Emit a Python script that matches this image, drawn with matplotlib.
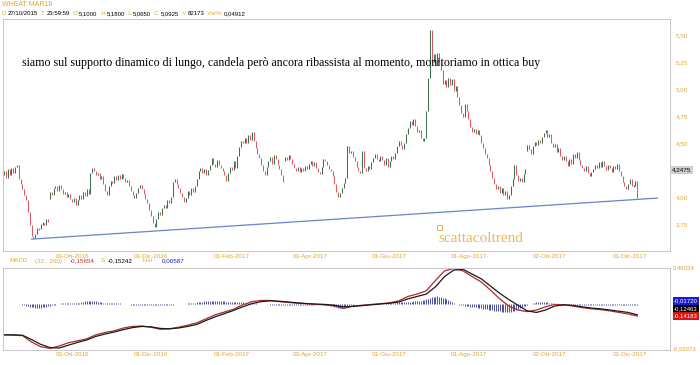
import matplotlib
matplotlib.use("Agg")
import matplotlib.pyplot as plt
import numpy as np
import pandas as pd
from matplotlib.patches import Rectangle

# ---------------- data ----------------
start_date = "2016-08-11"
first_open = 4.20
closes = [
    4.24, 4.18, 4.26, 4.20, 4.27, 4.22, 4.28, 4.30,
    4.17, 4.12, 4.07, 4.02, 3.97, 3.86, 3.74, 3.64, 3.62,
    3.66, 3.71, 3.70, 3.75, 3.76, 3.74, 3.80, 3.77,
    4.05, 4.02, 4.08,
    4.10, 4.06, 4.11, 4.07, 4.03, 4.05, 4.00, 4.03, 3.98, 3.95, 3.99, 3.93, 3.97, 4.02, 3.98, 4.05, 4.01, 4.07, 4.03, 4.22,
    4.27, 4.24, 4.20, 4.22, 4.17, 4.19, 4.12, 4.06, 4.02, 4.10, 4.15, 4.13, 4.19, 4.16, 4.20, 4.17, 4.21, 4.18, 4.14, 4.16,
    4.10, 4.06, 4.02, 3.99, 4.04, 4.08, 4.11, 4.07, 4.03, 3.98, 3.94,
    3.88, 3.82, 3.76, 3.72,
    3.80, 3.86, 3.83, 3.90, 3.93, 3.90, 3.97, 3.94,
    4.00, 4.14, 4.17, 4.12,
    4.08, 4.04, 4.00, 3.95,
    3.99, 4.06, 4.02, 4.08, 4.05, 4.10,
    4.17, 4.24, 4.27, 4.22, 4.26, 4.20, 4.25, 4.30,
    4.36, 4.31, 4.28, 4.34, 4.30, 4.27, 4.24, 4.20, 4.15,
    4.22, 4.28, 4.25, 4.33, 4.27, 4.38, 4.46, 4.52, 4.50,
    4.55, 4.50, 4.57, 4.53, 4.60,
    4.52, 4.45, 4.40, 4.36,
    4.30, 4.24, 4.20,
    4.28, 4.33, 4.37, 4.31, 4.39, 4.35,
    4.30, 4.26, 4.20, 4.14,
    4.37, 4.34, 4.39, 4.35, 4.31,
    4.27, 4.24, 4.28, 4.23,
    4.27, 4.24, 4.29, 4.26, 4.31, 4.33, 4.29, 4.32, 4.27, 4.23, 4.21, 4.28, 4.35, 4.33, 4.30, 4.26, 4.24,
    4.19, 4.12, 4.05, 4.00,
    4.04, 4.08, 4.13, 4.18,
    4.47,
    4.41, 4.43, 4.37, 4.33, 4.28, 4.24, 4.22, 4.43, 4.27,
    4.24, 4.29, 4.26, 4.32, 4.36, 4.40, 4.35, 4.33, 4.38, 4.34, 4.30, 4.36, 4.28, 4.33, 4.38, 4.35,
    4.41, 4.47, 4.52, 4.48, 4.44, 4.50, 4.58, 4.64, 4.70,
    4.67, 4.72,
    4.66, 4.60, 4.62, 4.55, 4.52, 4.55,
    4.80, 5.10, 5.55, 5.25,
    5.32, 5.22, 5.33, 5.25, 5.18, 5.05,
    5.08, 5.02, 5.10, 5.04, 5.09, 4.98, 5.03,
    4.93, 4.85, 4.78, 4.74,
    4.86, 4.80,
    4.72, 4.65, 4.60, 4.63, 4.58, 4.62, 4.57,
    4.50, 4.45, 4.40, 4.36, 4.30,
    4.24, 4.18, 4.12, 4.07, 4.10,
    4.04, 4.08, 4.02, 4.06, 3.98,
    4.02, 4.10, 4.17, 4.30,
    4.20, 4.15, 4.18, 4.14, 4.21, 4.26,
    4.48,
    4.44, 4.40, 4.47, 4.51, 4.48, 4.53, 4.50, 4.56, 4.59, 4.62,
    4.56, 4.58, 4.50, 4.46, 4.49, 4.42, 4.45, 4.38,
    4.34, 4.38, 4.33, 4.29, 4.35, 4.31, 4.40, 4.36, 4.42, 4.34, 4.30,
    4.27, 4.24, 4.29, 4.22, 4.19, 4.23,
    4.26, 4.30, 4.27, 4.32, 4.28, 4.33, 4.29, 4.25, 4.30, 4.27, 4.23, 4.29, 4.26, 4.31, 4.24,
    4.19, 4.14, 4.10, 4.07, 4.12,
    4.17, 4.10, 4.10, 4.15,
    3.99,
]
gap_opens = {25: 3.98, 153: 4.33, 285: 4.43}

trend_idx = [15, 356]
trend_price = [3.61, 3.99]

macd_step = 5
macd_line = [
    -0.38, -0.385, -0.39, -0.47, -0.53, -0.55, -0.52, -0.48, -0.455, -0.43,
    -0.38, -0.35, -0.33, -0.295, -0.275, -0.27, -0.285, -0.31, -0.305, -0.285,
    -0.26, -0.23, -0.18, -0.13, -0.095, -0.06, -0.005, 0.035, 0.05, 0.05,
    0.035, 0.025, 0.015, 0.01, 0.0, -0.005, -0.02, -0.05, -0.02, -0.01,
    0.0, 0.01, 0.02, 0.045, 0.10, 0.13, 0.17, 0.30, 0.42, 0.45,
    0.42, 0.35, 0.28, 0.18, 0.07, -0.02, -0.07, -0.09, -0.07, -0.03,
    0.0, -0.005, -0.02, -0.04, -0.055, -0.065, -0.08, -0.10, -0.12, -0.145,
]
signal_line = [
    -0.38, -0.38, -0.385, -0.44, -0.50, -0.54, -0.545, -0.51, -0.475, -0.445,
    -0.40, -0.37, -0.345, -0.315, -0.29, -0.275, -0.28, -0.30, -0.305, -0.295,
    -0.275, -0.25, -0.20, -0.155, -0.115, -0.075, -0.03, 0.01, 0.035, 0.045,
    0.04, 0.03, 0.02, 0.01, 0.005, 0.0, -0.01, -0.03, -0.025, -0.015,
    -0.005, 0.005, 0.015, 0.03, 0.07, 0.10, 0.13, 0.22, 0.35, 0.43,
    0.44, 0.38, 0.32, 0.23, 0.14, 0.06, -0.01, -0.08, -0.10, -0.07,
    -0.02, -0.005, -0.012, -0.03, -0.045, -0.055, -0.07, -0.085, -0.10, -0.13,
]
hist = [
    0.004, 0.004, 0.003, 0.004, 0.003, 0.004, 0.003, 0.004, 0.003, 0.002,
    -0.004, -0.010, -0.016, -0.022, -0.028, -0.033, -0.037, -0.040, -0.042, -0.042,
    -0.041, -0.038, -0.034, -0.029, -0.023, -0.017, -0.011, -0.006, -0.002, 0.003,
    0.008, 0.012, 0.015, 0.017, 0.018, 0.019, 0.019, 0.018, 0.018, 0.019,
    0.021, 0.024, 0.028, 0.033, 0.038, 0.042, 0.045, 0.047, 0.047, 0.045,
    0.041, 0.036, 0.031, 0.026, 0.022, 0.019, 0.017, 0.016, 0.016, 0.017,
    0.017, 0.016, 0.015, 0.013, 0.011, 0.009, 0.006, 0.003, 0.001, -0.002,
    -0.004, -0.006, -0.008, -0.009, -0.010, -0.011, -0.012, -0.012, -0.013, -0.013,
    -0.013, -0.012, -0.012, -0.011, -0.010, -0.009, -0.008, -0.007, -0.006, -0.005,
    -0.004, -0.003, -0.002, 0.002, 0.004, 0.005, 0.006, 0.007, 0.008, 0.010,
    0.012, 0.015, 0.018, 0.021, 0.024, 0.027, 0.030, 0.033, 0.036, 0.038,
    0.040, 0.042, 0.043, 0.044, 0.045, 0.045, 0.044, 0.043, 0.041, 0.039,
    0.037, 0.035, 0.033, 0.032, 0.031, 0.030, 0.029, 0.028, 0.027, 0.026,
    0.025, 0.024, 0.022, 0.020, 0.018, 0.016, 0.014, 0.012, 0.010, 0.008,
    0.006, 0.004, 0.003, 0.002, 0.001, -0.002, -0.004, -0.005, -0.006, -0.007,
    -0.008, -0.008, -0.009, -0.009, -0.009, -0.008, -0.008, -0.007, -0.007, -0.006,
    -0.006, -0.005, -0.005, -0.004, -0.004, -0.003, -0.003, -0.003, -0.002, -0.002,
    0.002, 0.002, 0.003, 0.002, -0.002, -0.004, -0.008, -0.013, -0.019, -0.025,
    -0.031, -0.036, -0.039, -0.041, -0.040, -0.036, -0.030, -0.022, -0.014, -0.007,
    -0.002, 0.002, 0.004, 0.005, 0.005, 0.005, 0.005, 0.006, 0.006, 0.006,
    0.006, 0.006, 0.007, 0.007, 0.008, 0.009, 0.010, 0.011, 0.013, 0.015,
    0.017, 0.019, 0.021, 0.023, 0.025, 0.027, 0.029, 0.031, 0.032, 0.033,
    0.034, 0.035, 0.036, 0.037, 0.038, 0.040, 0.042, 0.045, 0.050, 0.057,
    0.065, 0.074, 0.083, 0.090, 0.095, 0.098, 0.100, 0.098, 0.093, 0.085,
    0.075, 0.063, 0.050, 0.037, 0.025, 0.015, 0.007, 0.002, -0.002, -0.006,
    -0.010, -0.014, -0.018, -0.022, -0.026, -0.030, -0.034, -0.038, -0.042, -0.046,
    -0.050, -0.054, -0.058, -0.062, -0.066, -0.070, -0.074, -0.078, -0.082, -0.085,
    -0.088, -0.090, -0.092, -0.093, -0.093, -0.092, -0.089, -0.084, -0.077, -0.068,
    -0.058, -0.047, -0.036, -0.025, -0.015, -0.006, 0.003, 0.011, 0.018, 0.024,
    0.028, 0.031, 0.033, 0.033, 0.032, 0.030, 0.027, 0.023, 0.019, 0.015,
    0.011, 0.007, 0.004, 0.002, -0.002, -0.004, -0.005, -0.006, -0.006, -0.006,
    -0.005, -0.005, -0.005, -0.005, -0.005, -0.005, -0.005, -0.005, -0.005, -0.005,
    -0.005, -0.005, -0.005, -0.005, -0.005, -0.005, -0.005, -0.005, -0.005, -0.005,
    -0.005, -0.005, -0.005, -0.005, -0.005, -0.005, -0.005, -0.005, -0.005, -0.005,
    -0.005, -0.005, -0.005, -0.005, -0.005, -0.005,
]

tick_dates = ["2016-10-03", "2016-12-01", "2017-02-01", "2017-04-03",
              "2017-06-01", "2017-08-01", "2017-10-02", "2017-12-01"]
tick_labels = ["03-Ott-2016", "01-Dic-2016", "01-Feb-2017", "03-Apr-2017",
               "01-Giu-2017", "01-Ago-2017", "02-Ott-2017", "01-Dic-2017"]
price_ticks = [3.75, 4.00, 4.50, 4.75, 5.00, 5.25, 5.50]
price_tick_labels = ["3,75", "4,00", "4,50", "4,75", "5,00", "5,25", "5,50"]
last_price_level = 4.25
last_price_label = "4,2475"

title = "WHEAT MAR18"
info_pieces = [("D ", "o"), ("27/10/2015", "k"), ("  T ", "o"), ("23:59:59", "k"),
               ("  O ", "o"), ("5,1000", "k"), ("  H ", "o"), ("5,1800", "k"),
               ("  L ", "o"), ("5,0650", "k"), ("  C ", "o"), ("5,0925", "k"),
               ("  V ", "o"), ("82173", "k"), ("  Var% ", "o"), ("0,04912", "k")]
comment = ("siamo sul supporto dinamico di lungo, candela però ancora ribassista "
           "al momento, monitoriamo in ottica buy")
watermark = "scattacoltrend"
macd_header = [("MACD", "o", 10), ("(32 , 200) :", "o", 35), ("-0,15654", "r", 70),
               ("S :", "o", 101), ("-0,15242", "k", 108), ("Hst :", "o", 143),
               ("0,00587", "b", 162)]
macd_top_label = "0,46034"
macd_bottom_label = "-0,53973"
macd_boxes = [("-0,01720", "#1a1ad0"), ("-0,12463", "#000000"), ("-0,14183", "#e01010")]

# ---------------- styles ----------------
ORANGE = "#e3a52e"
GREEN = "#3e6f4e"
RED = "#da5a64"
BLUE_HIST = "#4b4fa6"
MACD_RED = "#b02a2a"
SIG_BLACK = "#1a1a1a"
TREND = "#6a86c8"
BORDER = "#c9c9c9"
SANS = ["Liberation Sans", "DejaVu Sans"]
SERIF = ["Liberation Serif", "DejaVu Serif"]

W, H = 700, 365
fig = plt.figure(figsize=(W / 100, H / 100), dpi=100)
fig.patch.set_facecolor("white")

def fx(px):
    return px / W

def fy(py):
    return 1 - py / H

n = len(closes)
dates = pd.bdate_range(start_date, periods=n)
idx = np.arange(n)
closes_a = np.array(closes)
opens_a = np.empty(n)
opens_a[0] = first_open
for i in range(1, n):
    opens_a[i] = gap_opens.get(i, closes_a[i - 1])

tick_pos = [dates.get_loc(pd.Timestamp(d)) for d in tick_dates]
XLIM = (-0.6, 362.8)

# ---------------- main panel ----------------
ax1 = fig.add_axes([fx(3), fy(251), fx(667), 232 / H])
hi = np.maximum(opens_a, closes_a)
lo = np.minimum(opens_a, closes_a)
small = (hi - lo) < 0.014
hi = np.where(small, hi + 0.007, hi)
lo = np.where(small, lo - 0.007, lo)
cols = [GREEN if c >= o else RED for o, c in zip(opens_a, closes_a)]
ax1.vlines(idx, lo, hi, colors=cols, linewidth=0.75)
ax1.plot(trend_idx, trend_price, color=TREND, linewidth=0.9)
ax1.set_xlim(*XLIM)
ax1.set_ylim(3.50, 5.648)
ax1.set_xticks([])
ax1.yaxis.tick_right()
ax1.set_yticks(price_ticks)
ax1.set_yticklabels(price_tick_labels)
ax1.tick_params(axis="y", length=0, pad=4, labelsize=4.5, labelcolor=ORANGE)
for lab in ax1.get_yticklabels():
    lab.set_fontfamily(SANS)
for s in ax1.spines.values():
    s.set_color(BORDER)
    s.set_linewidth(0.8)
ax1.text(1.003, last_price_level, last_price_label, transform=ax1.get_yaxis_transform(),
         fontsize=4.5, family=SANS, color="black", va="center", ha="left",
         bbox=dict(boxstyle="square,pad=0.25", facecolor="#cfcfcf", edgecolor="none"))

# date labels under main panel
for p, lab in zip(tick_pos, tick_labels):
    ax1.text(p, -0.025, lab, transform=ax1.get_xaxis_transform(), fontsize=4.5,
             family=SANS, color=ORANGE, ha="center", va="center")

# ---------------- MACD panel ----------------
ax2 = fig.add_axes([fx(3), fy(350), fx(667), 82 / H])
hist_a = np.array(hist)
ax2.vlines(np.arange(len(hist_a)), 0, hist_a, colors=BLUE_HIST, linewidth=0.7)
m_idx = np.arange(len(macd_line)) * macd_step
m_idx = np.minimum(m_idx, n - 1)
ax2.plot(m_idx, macd_line, color=MACD_RED, linewidth=0.9)
ax2.plot(m_idx, signal_line, color=SIG_BLACK, linewidth=0.9)
ax2.set_xlim(*XLIM)
ax2.set_ylim(-0.57, 0.456)
ax2.set_xticks([])
ax2.set_yticks([])
for s in ax2.spines.values():
    s.set_color(BORDER)
    s.set_linewidth(0.8)
for p, lab in zip(tick_pos, tick_labels):
    ax2.text(p, -0.05, lab, transform=ax2.get_xaxis_transform(), fontsize=4.5,
             family=SANS, color=ORANGE, ha="center", va="center")

fig.text(fx(673), fy(268), macd_top_label, fontsize=4.3, family=SANS, color=ORANGE,
         va="center", ha="left")
fig.text(fx(673), fy(349), macd_bottom_label, fontsize=4.3, family=SANS, color=ORANGE,
         va="center", ha="left")
for k, (lab, bg) in enumerate(macd_boxes):
    fig.text(fx(674), fy(301 + 7.5 * k), lab, fontsize=4.3, family=SANS, color="white",
             va="center", ha="left",
             bbox=dict(boxstyle="square,pad=0.2", facecolor=bg, edgecolor="none"))

hdr_col = {"o": ORANGE, "r": "#d02020", "k": "black", "b": "#1a1ad0"}
for txt, c, px in macd_header:
    fig.text(fx(px), fy(261), txt, fontsize=4.5, family=SANS, color=hdr_col[c],
             va="center", ha="left")

# ---------------- header texts ----------------
fig.text(fx(2), fy(5), title, fontsize=5, family=SANS, color=ORANGE, va="center", ha="left")
fig.canvas.draw()
renderer = fig.canvas.get_renderer()
xpos = 2.0
for txt, c in info_pieces:
    t = fig.text(fx(xpos), fy(13.5), txt, fontsize=4.3, family=SANS,
                 color=ORANGE if c == "o" else "black", va="center", ha="left")
    bb = t.get_window_extent(renderer=renderer)
    xpos += bb.width

fig.text(fx(22), fy(63), comment, fontsize=8.6, family=SERIF, color="black",
         va="center", ha="left")

# watermark
fig.patches.append(Rectangle((fx(437), fy(230)), 5 / W, 5 / H, transform=fig.transFigure,
                             fill=False, edgecolor="#e8b450", linewidth=0.7))
fig.text(fx(438), fy(238), watermark, fontsize=11, family=SERIF, color="#efb453",
         va="center", ha="left")

fig.savefig("out.png", dpi=100)
